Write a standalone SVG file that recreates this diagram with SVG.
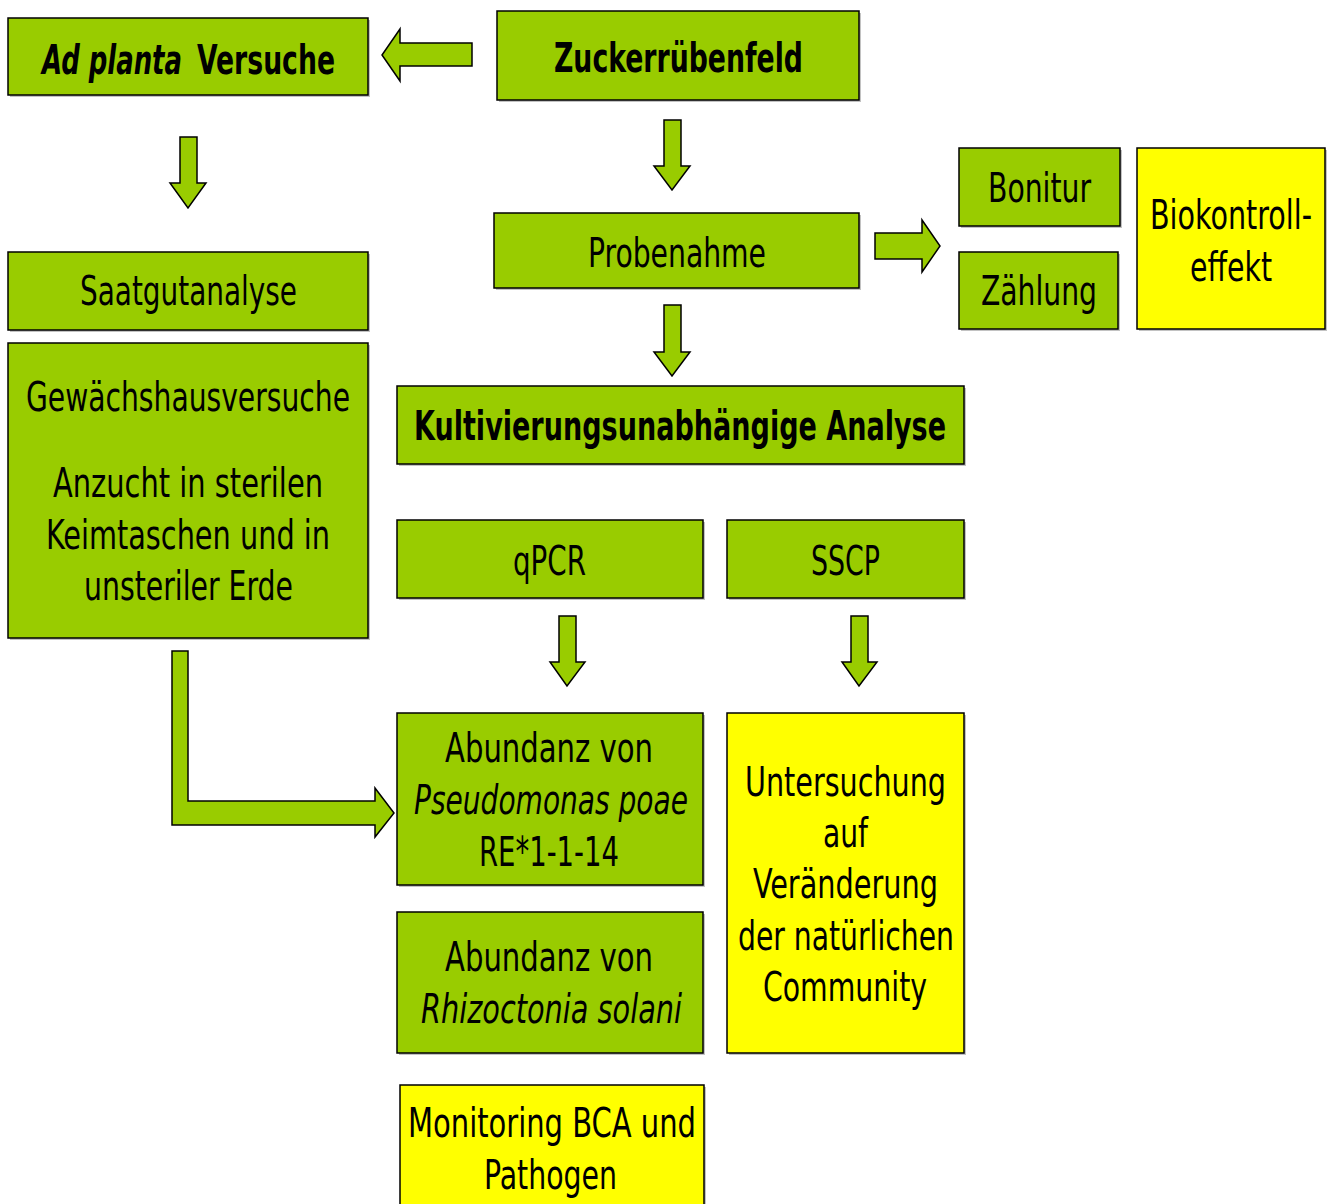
<svg xmlns="http://www.w3.org/2000/svg" width="1329" height="1204" viewBox="0 0 1329 1204">
<style>
.g{fill:#99CC00;stroke:#000;stroke-width:1.5}
.y{fill:#FFFF00;stroke:#000;stroke-width:1.5}
.sh{fill:#9a9a9a;opacity:0.6}
.a{fill:#99CC00;stroke:#000;stroke-width:1.5;stroke-linejoin:miter}
text{font-family:"DejaVu Sans Condensed","DejaVu Sans","Liberation Sans",sans-serif;font-stretch:condensed;font-size:40px;fill:#000;text-anchor:middle}
.b{font-weight:bold}
.i{font-style:italic}
.s{text-anchor:start}
</style>
<rect width="1329" height="1204" fill="#fff"/>
<g id="connectors">
<polygon class="a" points="472,43 400,43 400,29 382,55 400,81 400,66 472,66"/>
<polygon class="a" points="180,137 197,137 197,183 206,183 188,208 170,183 180,183"/>
<polygon class="a" points="664,120 681,120 681,166 690,166 672,190 654,166 664,166"/>
<polygon class="a" points="875,233 922,233 922,220 940,246 922,272 922,259 875,259"/>
<polygon class="a" points="664,305 681,305 681,352 690,352 672,376 654,352 664,352"/>
<polygon class="a" points="559,616 576,616 576,662 585,662 567,686 550,662 559,662"/>
<polygon class="a" points="851,616 868,616 868,662 877,662 859,686 842,662 851,662"/>
<polygon class="a" points="172,651 188,651 188,801 375,801 375,788 394,813 375,837 375,825 172,825"/>
</g>
<g id="adplanta"><rect class="sh" x="10" y="20" width="360" height="77"/><rect class="g" x="8" y="18" width="360" height="77"/>
<text x="42" y="74" textLength="140" lengthAdjust="spacingAndGlyphs" class="b i s">Ad planta</text>
<text x="197" y="74" textLength="138" lengthAdjust="spacingAndGlyphs" class="b s">Versuche</text></g>
<g id="zucker"><rect class="sh" x="499" y="13" width="362" height="89"/><rect class="g" x="497" y="11" width="362" height="89"/>
<text x="678.5" y="72" textLength="249" lengthAdjust="spacingAndGlyphs" class="b">Zuckerrübenfeld</text></g>
<g id="probenahme"><rect class="sh" x="496" y="215" width="365" height="75"/><rect class="g" x="494" y="213" width="365" height="75"/>
<text x="677" y="267" textLength="178" lengthAdjust="spacingAndGlyphs">Probenahme</text></g>
<g id="bonitur"><rect class="sh" x="961" y="150" width="161" height="78"/><rect class="g" x="959" y="148" width="161" height="78"/>
<text x="1039.5" y="202" textLength="103" lengthAdjust="spacingAndGlyphs">Bonitur</text></g>
<g id="zaehlung"><rect class="sh" x="961" y="254" width="159" height="77"/><rect class="g" x="959" y="252" width="159" height="77"/>
<text x="1039" y="305" textLength="116" lengthAdjust="spacingAndGlyphs">Zählung</text></g>
<g id="biokontroll"><rect class="sh" x="1139" y="150" width="188" height="181"/><rect class="y" x="1137" y="148" width="188" height="181"/>
<text x="1231" y="229" textLength="162" lengthAdjust="spacingAndGlyphs">Biokontroll-</text>
<text x="1231" y="281" textLength="82" lengthAdjust="spacingAndGlyphs">effekt</text></g>
<g id="saatgut"><rect class="sh" x="10" y="254" width="360" height="78"/><rect class="g" x="8" y="252" width="360" height="78"/>
<text x="188.5" y="305" textLength="217" lengthAdjust="spacingAndGlyphs">Saatgutanalyse</text></g>
<g id="gewaechshaus"><rect class="sh" x="10" y="345" width="360" height="295"/><rect class="g" x="8" y="343" width="360" height="295"/>
<text x="188" y="411" textLength="324" lengthAdjust="spacingAndGlyphs">Gewächshausversuche</text>
<text x="188" y="497" textLength="270" lengthAdjust="spacingAndGlyphs">Anzucht in sterilen</text>
<text x="188" y="549" textLength="284" lengthAdjust="spacingAndGlyphs">Keimtaschen und in</text>
<text x="188.5" y="600" textLength="209" lengthAdjust="spacingAndGlyphs">unsteriler Erde</text></g>
<g id="kultivierung"><rect class="sh" x="399" y="388" width="567" height="78"/><rect class="g" x="397" y="386" width="567" height="78"/>
<text x="680" y="440" textLength="532" lengthAdjust="spacingAndGlyphs" class="b">Kultivierungsunabhängige Analyse</text></g>
<g id="qpcr"><rect class="sh" x="399" y="522" width="306" height="78"/><rect class="g" x="397" y="520" width="306" height="78"/>
<text x="549.5" y="575" textLength="73" lengthAdjust="spacingAndGlyphs">qPCR</text></g>
<g id="sscp"><rect class="sh" x="729" y="522" width="237" height="78"/><rect class="g" x="727" y="520" width="237" height="78"/>
<text x="845.5" y="575" textLength="69" lengthAdjust="spacingAndGlyphs">SSCP</text></g>
<g id="pseudomonas"><rect class="sh" x="399" y="715" width="306" height="172"/><rect class="g" x="397" y="713" width="306" height="172"/>
<text x="549" y="762" textLength="208" lengthAdjust="spacingAndGlyphs">Abundanz von</text>
<text x="551" y="814" textLength="274" lengthAdjust="spacingAndGlyphs" class="i">Pseudomonas poae</text>
<text x="549" y="866" textLength="140" lengthAdjust="spacingAndGlyphs">RE*1-1-14</text></g>
<g id="rhizoctonia"><rect class="sh" x="399" y="914" width="306" height="141"/><rect class="g" x="397" y="912" width="306" height="141"/>
<text x="549" y="971" textLength="208" lengthAdjust="spacingAndGlyphs">Abundanz von</text>
<text x="551.5" y="1023" textLength="261" lengthAdjust="spacingAndGlyphs" class="i">Rhizoctonia solani</text></g>
<g id="untersuchung"><rect class="sh" x="729" y="715" width="237" height="340"/><rect class="y" x="727" y="713" width="237" height="340"/>
<text x="845.5" y="796" textLength="201" lengthAdjust="spacingAndGlyphs">Untersuchung</text>
<text x="845.5" y="847" textLength="45" lengthAdjust="spacingAndGlyphs">auf</text>
<text x="845.5" y="898" textLength="185" lengthAdjust="spacingAndGlyphs">Veränderung</text>
<text x="846" y="950" textLength="216" lengthAdjust="spacingAndGlyphs">der natürlichen</text>
<text x="845" y="1001" textLength="164" lengthAdjust="spacingAndGlyphs">Community</text></g>
<g id="monitoring"><rect class="sh" x="402" y="1087" width="304" height="130"/><rect class="y" x="400" y="1085" width="304" height="130"/>
<text x="552" y="1137" textLength="288" lengthAdjust="spacingAndGlyphs">Monitoring BCA und</text>
<text x="550.5" y="1189" textLength="133" lengthAdjust="spacingAndGlyphs">Pathogen</text></g>
</svg>
